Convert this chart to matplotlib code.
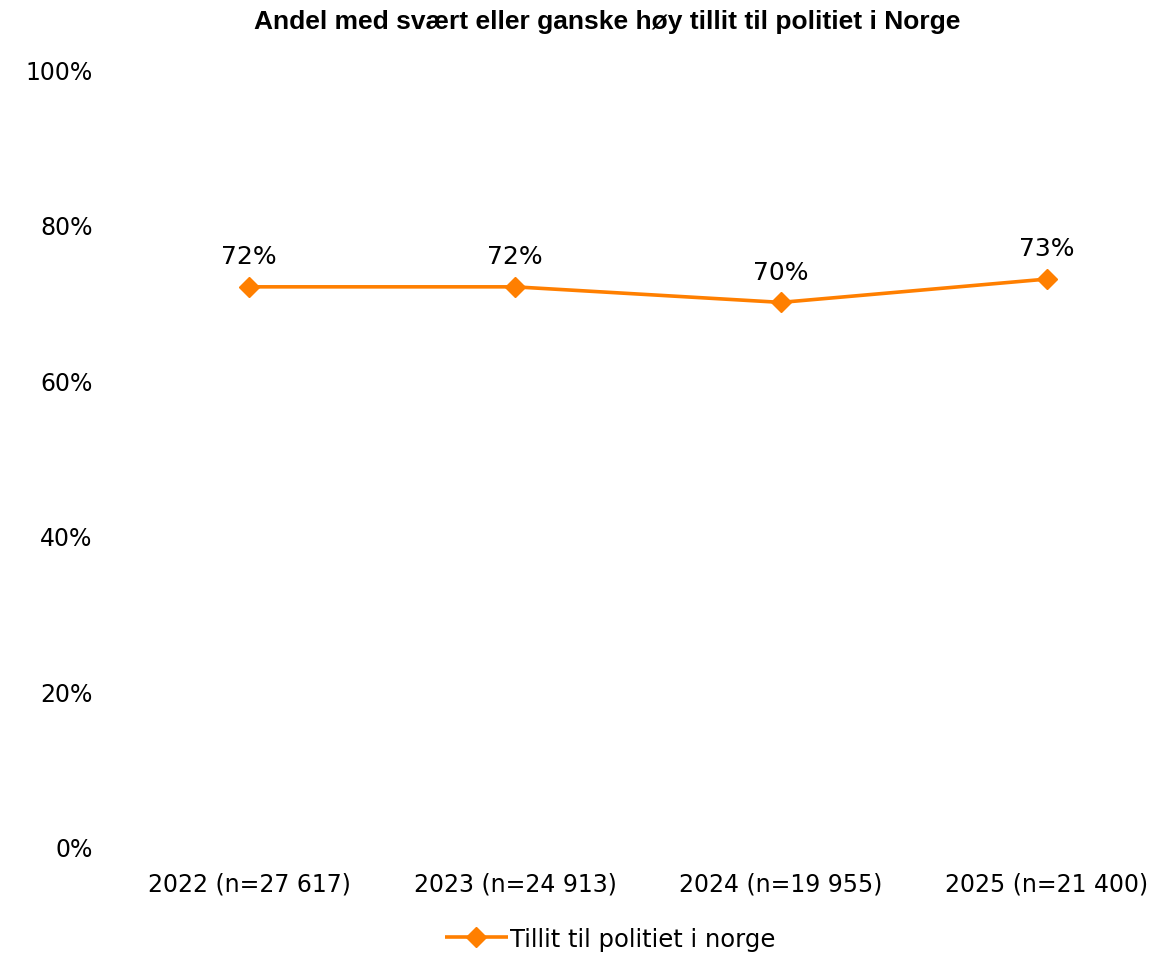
import matplotlib
matplotlib.use("Agg")
import matplotlib.pyplot as plt
from matplotlib.ticker import FuncFormatter

categories = ["2022 (n=27 617)", "2023 (n=24 913)", "2024 (n=19 955)", "2025 (n=21 400)"]
values = [72, 72, 70, 73]
series_name = "Tillit til politiet i norge"
title = "Andel med svært eller ganske høy tillit til politiet i Norge"
yticks = [0, 20, 40, 60, 80, 100]

color = "#FF7F00"
W, H = 1174, 954
fig = plt.figure(figsize=(W / 100, H / 100), dpi=100)
ax = fig.add_axes([116 / W, 106 / H, 1064 / W, 778 / H])

x = list(range(len(categories)))
line, = ax.plot(x, values, color=color, lw=2.6, marker="D", markersize=10,
                markeredgecolor=color, markerfacecolor=color, label=series_name,
                solid_capstyle="butt")
for xi, v in zip(x, values):
    ax.annotate(f"{v}%", (xi, v), xytext=(0, 17), textcoords="offset points",
                ha="center", va="baseline", fontsize=18, color="black")

ax.set_xlim(-0.5, len(categories) - 0.5)
ax.set_ylim(0, 100)
ax.set_yticks(yticks)
ax.yaxis.set_major_formatter(FuncFormatter(lambda v, p: f"{v:.0f}%"))
ax.set_xticks(x)
ax.set_xticklabels(categories)
ax.tick_params(axis="both", length=0, labelsize=17, colors="black")
ax.tick_params(axis="y", pad=17)
ax.tick_params(axis="x", pad=18)
for s in ax.spines.values():
    s.set_visible(False)

fig.text(607 / W, 1 - 22 / H, title, ha="center", va="center", fontsize=19,
         fontweight="bold", family="Liberation Sans")
fig.legend(handles=[line], loc="center", bbox_to_anchor=(610 / W, 1 - 940 / H),
           frameon=False, fontsize=17.5, handlelength=2.6, handletextpad=0.1)

fig.savefig("out.png", dpi=100)
